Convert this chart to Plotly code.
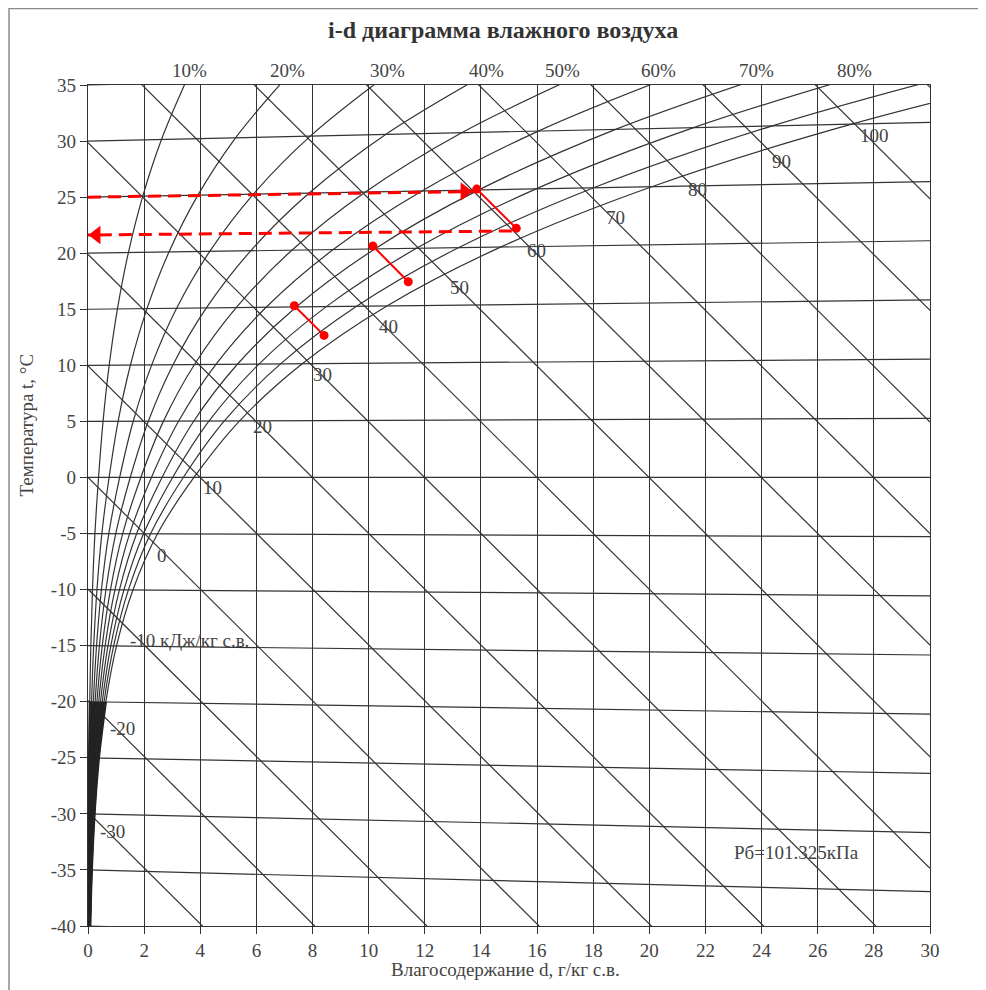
import plotly.graph_objects as go

# ---------------- data ----------------
P_BARO_KPA = 101.325
RH_LEVELS = [10, 20, 30, 40, 50, 60, 70, 80, 90, 100]
RH_LABELS = ["10%", "20%", "30%", "40%", "50%", "60%", "70%", "80%", "90%", "100%"]
SAT_TEMPS = [-40, -35, -30, -25, -20, -15, -10, -5, 0, 5, 10, 15, 20, 25, 30, 35]
SAT_PRESSURE_KPA = [0.0129, 0.0223, 0.0381, 0.0633, 0.1035, 0.1652, 0.2600, 0.4018,
                    0.6112, 0.8726, 1.2282, 1.7057, 2.3392, 3.1697, 4.2467, 5.6286]
ISOTHERMS = [-40, -35, -30, -25, -20, -15, -10, -5, 0, 5, 10, 15, 20, 25, 30, 35]
ENTHALPY_LEVELS = [-30, -20, -10, 0, 10, 20, 30, 40, 50, 60, 70, 80, 90, 100, 110]
ENTHALPY_LABELS = ["-30", "-20", "-10 кДж/кг с.в.", "0", "10", "20", "30", "40",
                   "50", "60", "70", "80", "90", "100"]
X_TICKS = [0, 2, 4, 6, 8, 10, 12, 14, 16, 18, 20, 22, 24, 26, 28, 30]
Y_TICKS = [-40, -35, -30, -25, -20, -15, -10, -5, 0, 5, 10, 15, 20, 25, 30, 35]
Y_TICK_TEXT = ["-40", "-35", "-30", "-25", "-20", "-15", "-10", "-5", "0",
               "5", "10", "15", "20", "25", "30", "35"]

# process points (d, chart ordinate)
PROCESS_D_START = [7.35, 10.15, 13.85]
PROCESS_Y_START = [15.31, 20.64, 25.72]
PROCESS_D_END = [8.41, 11.41, 15.26]
PROCESS_Y_END = [12.67, 17.45, 22.22]
ARROW_HEAT_D = [0.0, 13.72]
ARROW_HEAT_Y = [25.0, 25.5]
ARROW_COOL_D = [15.1, 0.0]
ARROW_COOL_Y = [21.98, 21.62]

TITLE = "i-d диаграмма влажного воздуха"
X_TITLE = "Влагосодержание d, г/кг с.в."
Y_TITLE = "Температура t, °C"
PRESSURE_NOTE = "Рб=101.325кПа"

# ---------------- chart coordinates (i-d oblique system) ----------------
def ordinate(t, d):
    return t * (1.0 + 0.00186 * d / 1.005)

def moisture(phi, ps):
    pv = phi / 100.0 * ps
    return 622.0 * pv / (P_BARO_KPA - pv)

LINE_COL = "#333333"
TEXT_COL = "#444444"
FONT = "Liberation Serif, Times New Roman, serif"
RED = "#ff0000"
LW = 1.2

fig = go.Figure()

# isotherms
for t in ISOTHERMS:
    fig.add_trace(go.Scatter(x=[0, 30], y=[ordinate(t, 0), ordinate(t, 30)], mode="lines",
                             line=dict(color=LINE_COL, width=LW), hoverinfo="skip", showlegend=False))

# enthalpy lines
for i in ENTHALPY_LEVELS:
    ds = [0, 30]
    ys = [(i - 2.501 * d) / 1.005 for d in ds]
    fig.add_trace(go.Scatter(x=ds, y=ys, mode="lines",
                             line=dict(color=LINE_COL, width=LW), hoverinfo="skip", showlegend=False))

# relative humidity curves (the cold part is drawn heavier, as in the original print)
for phi in RH_LEVELS:
    ds = [moisture(phi, ps) for ps in SAT_PRESSURE_KPA]
    ys = [ordinate(t, d) for t, d in zip(SAT_TEMPS, ds)]
    fig.add_trace(go.Scatter(x=ds, y=ys, mode="lines", line_shape="spline",
                             line=dict(color=LINE_COL, width=LW), hoverinfo="skip", showlegend=False))
    cold = [k for k, t in enumerate(SAT_TEMPS) if t <= -20]
    fig.add_trace(go.Scatter(x=[ds[k] for k in cold], y=[ys[k] for k in cold], mode="lines",
                             line_shape="spline", line=dict(color="#222222", width=2.2),
                             hoverinfo="skip", showlegend=False))

# dashed arrows
for dd, yy in [(ARROW_HEAT_D, ARROW_HEAT_Y), (ARROW_COOL_D, ARROW_COOL_Y)]:
    fig.add_trace(go.Scatter(x=dd, y=yy, mode="lines",
                             line=dict(color=RED, width=3, dash="13px,7px"),
                             hoverinfo="skip", showlegend=False))
# arrow heads
fig.add_trace(go.Scatter(x=[ARROW_HEAT_D[1] - 0.3], y=[ARROW_HEAT_Y[1]], mode="markers",
                         marker=dict(symbol="triangle-right", size=16, color=RED),
                         hoverinfo="skip", showlegend=False))
fig.add_trace(go.Scatter(x=[ARROW_COOL_D[1] + 0.3], y=[ARROW_COOL_Y[1]], mode="markers",
                         marker=dict(symbol="triangle-left", size=16, color=RED),
                         hoverinfo="skip", showlegend=False))

# process segments
for d0, y0, d1, y1 in zip(PROCESS_D_START, PROCESS_Y_START, PROCESS_D_END, PROCESS_Y_END):
    fig.add_trace(go.Scatter(x=[d0, d1], y=[y0, y1], mode="lines+markers",
                             line=dict(color=RED, width=2),
                             marker=dict(color=RED, size=9),
                             hoverinfo="skip", showlegend=False))

annotations = []
# enthalpy labels (placed near the saturation curve)
ENTH_LABEL_POS = [(0.89, -31.6), (1.24, -22.36), (1.43, -14.5), (2.64, -6.93), (4.42, -0.86),
                  (6.2, 4.58), (8.35, 9.22), (10.69, 13.44), (13.22, 16.98), (15.98, 20.28),
                  (18.81, 23.14), (21.7, 25.72), (24.72, 28.16), (28.04, 30.48)]
for lab, (px, py) in zip(ENTHALPY_LABELS, ENTH_LABEL_POS):
    annotations.append(dict(x=px, y=py, xref="x", yref="y", text=lab, showarrow=False,
                            xanchor="left" if "кДж" in lab else "center", yanchor="middle",
                            font=dict(family=FONT, size=19, color=TEXT_COL)))

# RH labels
RH_LABEL_POS = [(3.63, 1.0178, "center"), (7.12, 1.0178, "center"), (10.68, 1.0178, "center"),
                (14.21, 1.0178, "center"), (16.92, 1.0178, "center"), (20.31, 1.0178, "center"),
                (23.83, 1.0178, "center"), (27.32, 1.0178, "center"),
                (30.21, 1.006, "left"), (30.25, 0.9822, "left")]
for lab, (px, py, xa) in zip(RH_LABELS, RH_LABEL_POS):
    annotations.append(dict(x=px, y=py, xref="x", yref="paper", text=lab, showarrow=False,
                            xanchor=xa, yanchor="middle",
                            font=dict(family=FONT, size=19, color=TEXT_COL)))

annotations.append(dict(x=25.25, y=-33.42, xref="x", yref="y", text=PRESSURE_NOTE, showarrow=False,
                        xanchor="center", yanchor="middle",
                        font=dict(family=FONT, size=19, color=TEXT_COL)))
annotations.append(dict(x=0.4929, y=1.0654, xref="paper", yref="paper", text="<b>" + TITLE + "</b>",
                        showarrow=False, xanchor="center", yanchor="middle",
                        font=dict(family=FONT, size=24, color="#333333")))
annotations.append(dict(x=0.4964, y=-0.0523, xref="paper", yref="paper", text=X_TITLE,
                        showarrow=False, xanchor="center", yanchor="middle",
                        font=dict(family=FONT, size=19, color=TEXT_COL)))
annotations.append(dict(x=-0.0742, y=0.5957, xref="paper", yref="paper", text=Y_TITLE,
                        showarrow=False, xanchor="center", yanchor="middle", textangle=-90,
                        font=dict(family=FONT, size=19, color=TEXT_COL)))

# page body has an 8px default margin, so the figure is 8px smaller and shifted
fig.update_layout(
    width=978, height=982,
    margin=dict(l=80, r=56, t=77, b=64),
    paper_bgcolor="white", plot_bgcolor="white",
    showlegend=False,
    annotations=annotations,
    shapes=[dict(type="rect", xref="paper", yref="paper", x0=-0.0938, x1=1.0582, y0=-0.1, y1=1.0910,
                 line=dict(color="#8a8a8a", width=1.5), layer="below")],
    xaxis=dict(range=[0, 30], tickvals=X_TICKS, showgrid=True, gridcolor=LINE_COL, gridwidth=LW,
               zeroline=False, showline=True, linecolor=LINE_COL, linewidth=LW, mirror=True,
               ticks="outside", ticklen=7, tickcolor=LINE_COL,
               tickfont=dict(family=FONT, size=19, color=TEXT_COL)),
    yaxis=dict(range=[-40, 35], tickvals=Y_TICKS, ticktext=Y_TICK_TEXT, showgrid=False,
               zeroline=False, showline=True, linecolor=LINE_COL, linewidth=LW, mirror=True,
               ticks="outside", ticklen=7, tickcolor=LINE_COL,
               tickfont=dict(family=FONT, size=19, color=TEXT_COL)),
)

fig.write_html("out.html")
